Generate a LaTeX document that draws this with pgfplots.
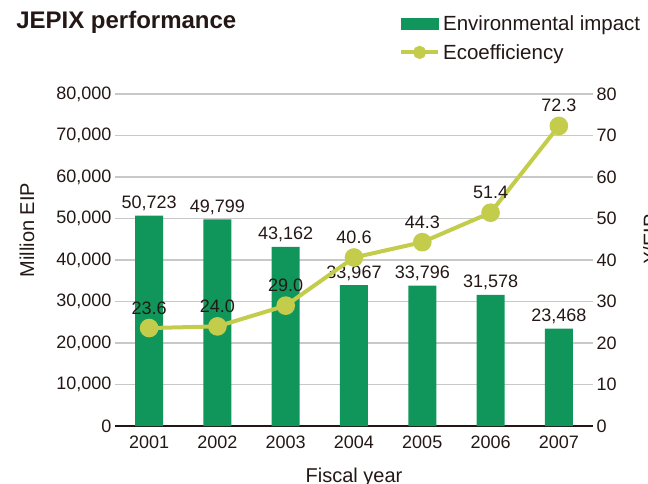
\documentclass[border=0pt]{standalone}
\usepackage{fontspec}
\setmainfont{Liberation Sans}
\usepackage{pgfplots}
\pgfplotsset{compat=1.18}
\definecolor{barg}{RGB}{16,150,90}
\definecolor{lineg}{RGB}{195,205,75}
\definecolor{gridc}{RGB}{200,200,200}
\definecolor{textc}{RGB}{35,24,21}
\newcommand{\tk}{\fontsize{18bp}{21bp}\selectfont}
\newcommand{\lb}{\fontsize{20bp}{24bp}\selectfont}
\pgfplotsset{
  base/.style={
    scale only axis, width=478bp, height=332bp,
    xmin=2000.5, xmax=2007.5,
    ymin=0,
    clip=false,
    major tick length=0pt,
    tick label style={font=\tk, text=textc},
    /pgf/number format/assume math mode=true,
    label style={font=\lb, text=textc},
  }
}
\begin{document}
\begin{tikzpicture}
\begin{axis}[base,
    ymax=80000,
    ytick={0,10000,...,80000},
    scaled y ticks=false,
    xtick={2001,...,2007},
    x tick label style={/pgf/number format/1000 sep={}, yshift=-6bp},
    axis x line*=bottom, axis y line*=left,
    x axis line style={line width=2bp, color=textc},
    y axis line style={draw=none},
    ymajorgrids, grid style={gridc, line width=1.3bp},
    xlabel={Fiscal year},
    xlabel style={at={(axis description cs:0.5,-0.155)}, anchor=center},
    ylabel={Million EIP},
    ylabel style={at={(axis description cs:-0.184,0.59)}, anchor=center},
    title={\fontsize{24bp}{28bp}\selectfont\bfseries JEPIX performance},
    title style={at={(axis description cs:-0.207,1.178)}, anchor=base west, inner sep=0pt, text=textc},
    ybar, bar width=28bp,
    nodes near coords,
    nodes near coords style={anchor=base, yshift=7bp, font=\tk, text=textc},
  ]
  \addplot[fill=barg, draw=none] coordinates {
    (2001,50723) (2002,49799) (2003,43162) (2004,33967)
    (2005,33796) (2006,31578) (2007,23468)};
\end{axis}
\begin{axis}[base,
    ymax=80,
    ytick={0,10,...,80},
    axis x line=none, axis y line*=right,
    y axis line style={draw=none},
    ylabel={¥/EIP},
    ylabel style={at={(axis description cs:1.12,0.563)}, anchor=center, rotate=0},
    /pgf/number format/.cd, fixed, fixed zerofill, precision=1, /tikz/.cd,
    yticklabel={\pgfmathprintnumber[fixed, precision=0]{\tick}},
    legend cell align=left,
    legend style={at={(axis description cs:0.594,1.245)}, anchor=north west,
      draw=none, fill=none, inner sep=0pt, row sep=6bp,
      font=\fontsize{20.5bp}{24bp}\selectfont, text=textc,
      nodes={inner sep=3bp}},
  ]
  \addlegendimage{legend image code/.code={\fill[barg] (0bp,-5.5bp) rectangle (37bp,5.5bp);}}
  \addlegendentry{Environmental impact}
  \addplot[color=lineg, line width=4bp, mark=*, mark size=7.3bp,
      mark options={fill=lineg, draw=none},
      nodes near coords,
      nodes near coords style={anchor=base, yshift=14bp, font=\tk, text=textc},
      legend image code/.code={\draw[lineg, line width=4bp] (0bp,0bp) -- (37bp,0bp);
        \fill[lineg] (18.5bp,0bp) circle (4.5bp);}]
    coordinates {(2001,23.6) (2002,24.0) (2003,29.0) (2004,40.6)
      (2005,44.3) (2006,51.4) (2007,72.3)};
  \addlegendentry{Ecoefficiency}
\end{axis}
\pgfresetboundingbox
\path[use as bounding box] (-115bp,-58bp) rectangle (533bp,426bp);
\end{tikzpicture}
\end{document}
